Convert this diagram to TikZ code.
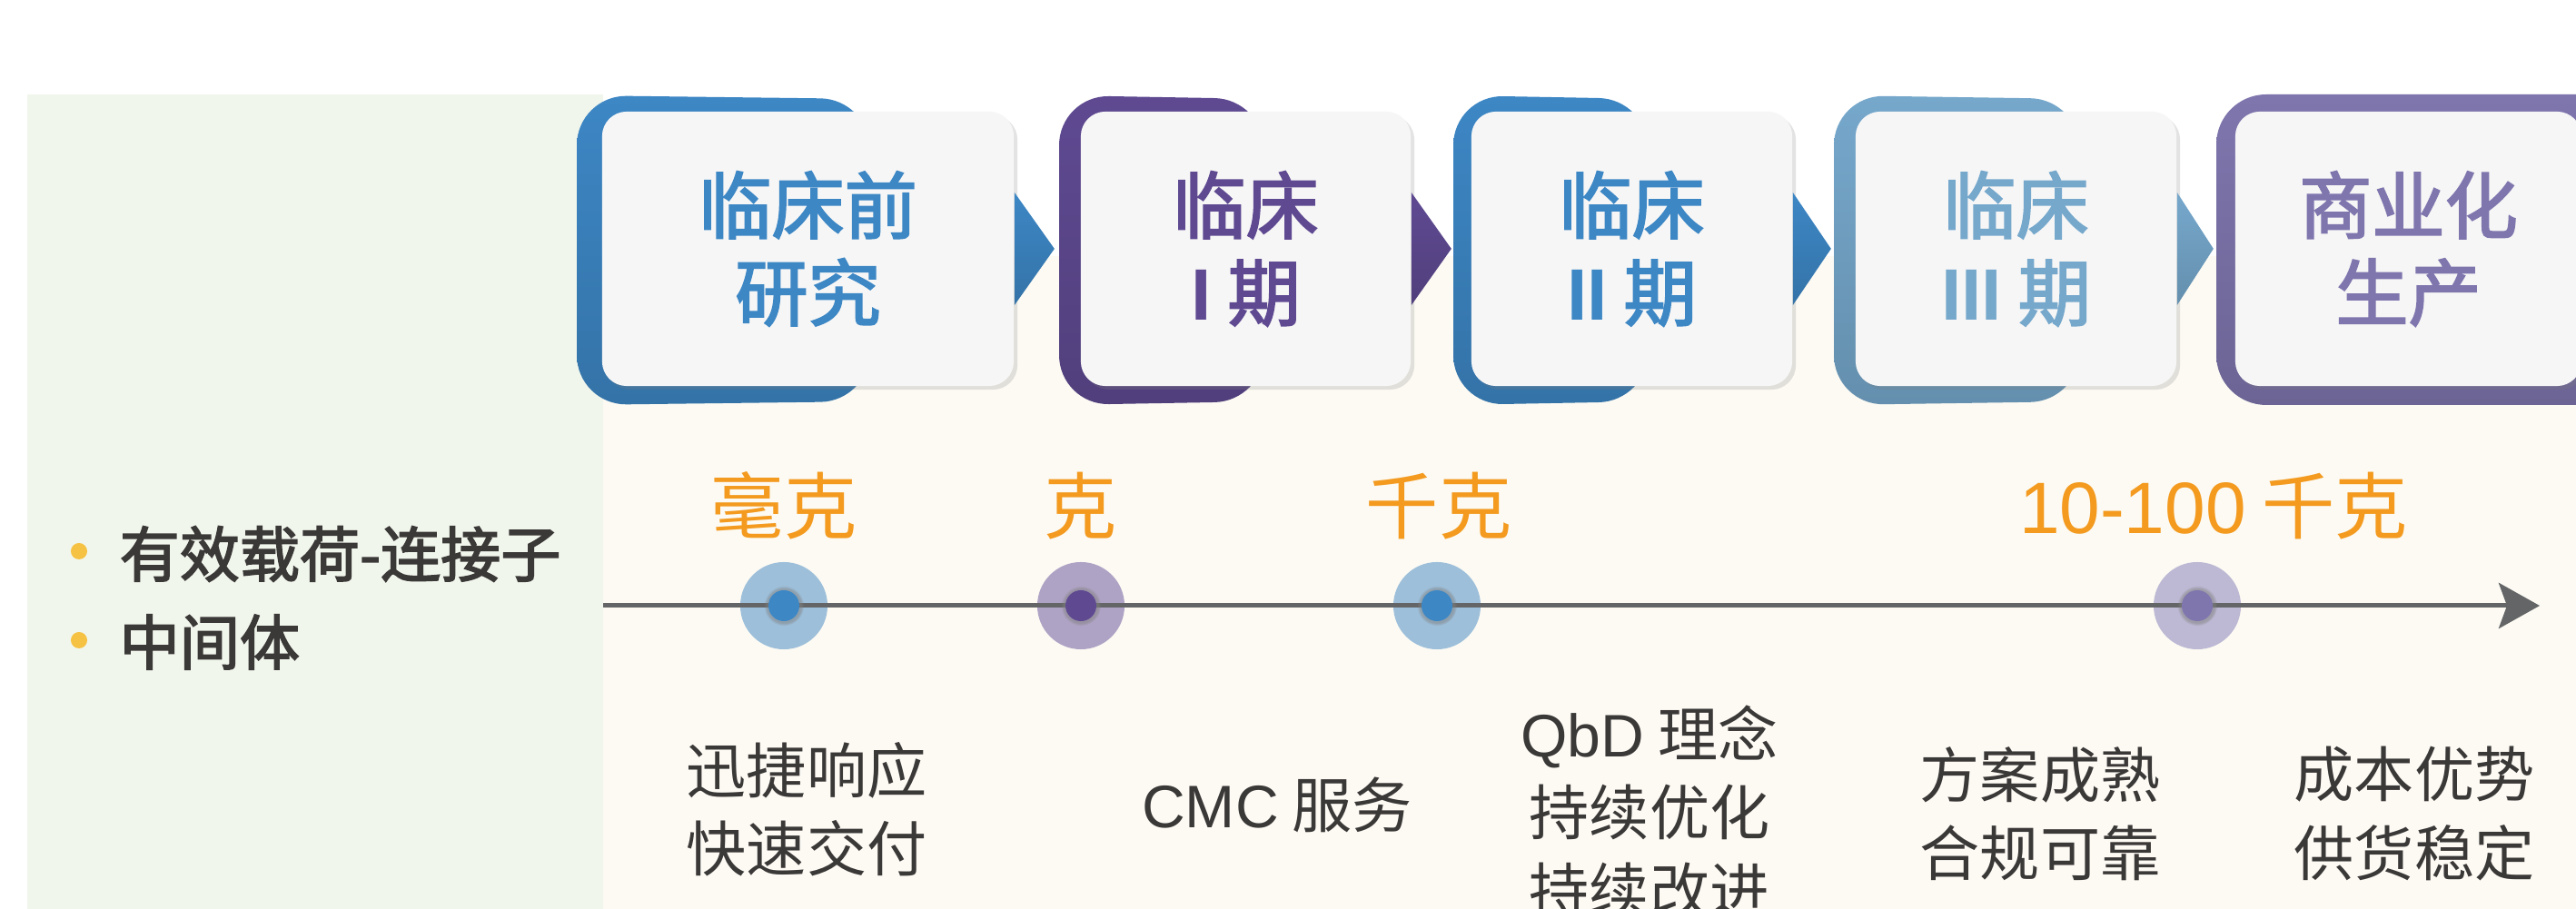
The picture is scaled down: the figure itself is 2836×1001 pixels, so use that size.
\documentclass[tikz,border=0pt]{standalone}
\usepackage{fontspec}
\setmainfont{Noto Sans CJK SC}
\newfontfamily\medfont[FakeBold=2.5]{Noto Sans CJK SC}
\newfontfamily\latinfont{Liberation Sans}
\usetikzlibrary{arrows.meta,shadows}

\definecolor{stageblue}{HTML}{3D87C5}
\definecolor{stagepurple}{HTML}{5F4A92}
\definecolor{stagesky}{HTML}{76A8CC}
\definecolor{stagelilac}{HTML}{7F76AE}
\definecolor{cardgray}{HTML}{F6F6F6}
\definecolor{panelgreen}{HTML}{F1F6EC}
\definecolor{panelcream}{HTML}{FCFAF3}
\definecolor{massorange}{HTML}{F39A1F}
\definecolor{textgray}{HTML}{3B3838}
\definecolor{bulletyellow}{HTML}{F6C244}
\definecolor{haloblue}{HTML}{9DBFDA}
\definecolor{halopurple}{HTML}{AFA3C5}
\definecolor{halolilac}{HTML}{BDB8D3}
\definecolor{axisgray}{HTML}{636566}

\begin{document}
\begin{tikzpicture}[x=0.01cm,y=-0.01cm]
    \tikzstyle{card}=[rectangle,rounded corners=0.27cm,fill=cardgray,inner sep=0pt,minimum height=3.02cm,align=center,font=\fontsize{22.8}{27.3}\selectfont\medfont,drop shadow={shadow xshift=0.04cm,shadow yshift=-0.04cm,opacity=0.22}]
    \tikzstyle{halo}=[circle,inner sep=0pt,minimum size=0.96cm]
    \tikzstyle{dot}=[circle,inner sep=0pt,minimum size=0.34cm,circular drop shadow={shadow xshift=0cm,shadow yshift=0cm,shadow scale=1.3,opacity=0.5}]
    \tikzstyle{mass}=[inner sep=0pt,text=massorange,font=\fontsize{22.8}{27}\selectfont]
    \tikzstyle{note}=[inner sep=0pt,text=textgray,align=center,font=\fontsize{18.8}{24.5}\selectfont]
    \tikzstyle{bullet}=[circle,fill=bulletyellow,inner sep=0pt,minimum size=0.18cm]
    \tikzstyle{item}=[inner sep=0pt,anchor=west,text=textgray,font=\fontsize{18.8}{24}\selectfont\medfont]
    \clip (0,0) rectangle (2836,1001);
    \fill[white] (0,0) rectangle (2836,1001);
    \fill[panelgreen] (30,104) rectangle (664,1001);
    \fill[panelcream] (664,282) rectangle (2836,1001);
    % stage backs
    \shade[top color=stageblue,middle color=stageblue,bottom color=stageblue!85!black,rounded corners=0.55cm] (635,105) -- (958,109) -- (958,442) -- (635,446) -- cycle;
    \shade[top color=stagepurple,middle color=stagepurple,bottom color=stagepurple!85!black,rounded corners=0.55cm] (1166,105) -- (1392,109) -- (1392,442) -- (1166,446) -- cycle;
    \shade[top color=stageblue,middle color=stageblue,bottom color=stageblue!85!black,rounded corners=0.55cm] (1600,105) -- (1815,109) -- (1815,442) -- (1600,446) -- cycle;
    \shade[top color=stagesky,middle color=stagesky,bottom color=stagesky!85!black,rounded corners=0.55cm] (2019,105) -- (2290,109) -- (2290,442) -- (2019,446) -- cycle;
    \shade[top color=stagelilac,middle color=stagelilac,bottom color=stagelilac!85!black,rounded corners=0.55cm] (2440,104) rectangle (2900,446);
    % stage cards
    \node[card,text=stageblue,minimum width=4.53cm] (s1) at (889.5,274) {临床前\\研究};
    \node[card,text=stagepurple,minimum width=3.63cm] (s2) at (1371.5,274) {临床\\{\latinfont\bfseries I} 期};
    \node[card,text=stageblue,minimum width=3.53cm] (s3) at (1796.5,274) {临床\\{\latinfont\bfseries II} 期};
    \node[card,text=stagesky,minimum width=3.53cm] (s4) at (2219.5,274) {临床\\{\latinfont\bfseries III} 期};
    \node[card,text=stagelilac,minimum width=3.81cm] (s5) at (2651.5,274) {商业化\\生产};
    \shade[top color=stageblue,middle color=stageblue,bottom color=stageblue!85!black] ([yshift=0.62cm]s1.east) -- ++(44,62) -- ([yshift=-0.62cm]s1.east) -- cycle;
    \shade[top color=stagepurple,middle color=stagepurple,bottom color=stagepurple!85!black] ([yshift=0.62cm]s2.east) -- ++(44,62) -- ([yshift=-0.62cm]s2.east) -- cycle;
    \shade[top color=stageblue,middle color=stageblue,bottom color=stageblue!85!black] ([yshift=0.62cm]s3.east) -- ++(42,62) -- ([yshift=-0.62cm]s3.east) -- cycle;
    \shade[top color=stagesky,middle color=stagesky,bottom color=stagesky!85!black] ([yshift=0.62cm]s4.east) -- ++(40,62) -- ([yshift=-0.62cm]s4.east) -- cycle;
    % timeline
    \coordinate (t0) at (664,667);
    \coordinate (t1) at (2796,667);
    \node[halo,fill=haloblue] (h1) at (863,667) {};
    \node[halo,fill=halopurple] (h2) at (1190,667) {};
    \node[halo,fill=haloblue] (h3) at (1582,667) {};
    \node[halo,fill=halolilac] (h4) at (2419,667) {};
    \draw[axisgray,line width=0.05cm,-{Stealth[length=0.45cm,width=0.5cm,inset=0.09cm]}] (t0) -- (t1);
    \node[dot,fill=stageblue] (d1) at (h1) {};
    \node[dot,fill=stagepurple] (d2) at (h2) {};
    \node[dot,fill=stageblue] (d3) at (h3) {};
    \node[dot,fill=stagelilac] (d4) at (h4) {};
    \node[mass] (m1) at (863,557) {毫克};
    \node[mass] (m2) at (1190,557) {克};
    \node[mass] (m3) at (1584,557) {千克};
    \node[mass] (m4) at (2437,557) {{\latinfont 10-100} 千克};
    \node[note] (n1) at (888,891) {迅捷响应\\快速交付};
    \node[note] (n2) at (1406,886) {{\latinfont CMC} 服务};
    \node[note] (n3) at (1816,894) {{\latinfont QbD} 理念\\持续优化\\持续改进};
    \node[note] (n4) at (2246,896) {方案成熟\\合规可靠};
    \node[note] (n5) at (2658,896) {成本优势\\供货稳定};
    % left panel
    \node[bullet] (b1) at (87,607) {};
    \node[bullet] (b2) at (87,705) {};
    \node[item] (i1) at (131,610) {有效载荷-连接子};
    \node[item] (i2) at (131,707) {中间体};
\end{tikzpicture}
\end{document}
